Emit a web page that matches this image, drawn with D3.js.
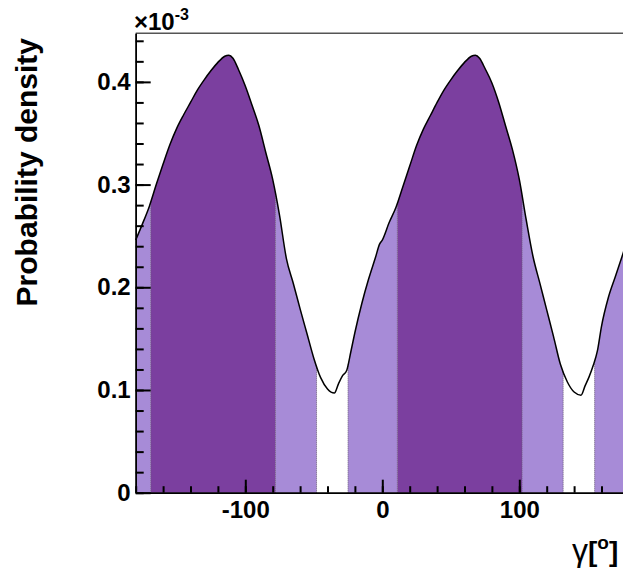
<!DOCTYPE html>
<html>
<head>
<meta charset="utf-8">
<script src="https://cdn.jsdelivr.net/npm/d3@7"></script>
<style>
  html, body { margin: 0; padding: 0; background: #fff; }
  svg { display: block; }
</style>
</head>
<body>
<svg id="chart" width="623" height="573"></svg>
<script>
// ---- data (density in units of 10^-3) ----
const gammaDeg = [
  -180, -175, -170, -165, -160, -155, -150, -145, -140, -135, -130, -125, -120, -115, -112, -109,
  -105, -100, -95, -90, -85, -80, -75, -70, -65, -60, -55, -50, -45, -40, -35, -32, -29, -26, -23,
  -20, -15, -10, -5, -2,
  0, 5, 10, 15, 20, 25, 30, 35, 40, 45, 50, 55, 60, 65, 68, 71,
  75, 80, 85, 90, 95, 100, 105, 110, 115, 120, 125, 130, 135, 140, 145, 148, 151, 154, 157,
  160, 165, 170, 175, 178, 180
];
const density = [
  0.246, 0.262, 0.279, 0.300, 0.320, 0.339, 0.355, 0.368, 0.380, 0.392, 0.402, 0.411, 0.419, 0.425, 0.426, 0.423,
  0.412, 0.396, 0.377, 0.357, 0.331, 0.305, 0.270, 0.228, 0.204, 0.179, 0.155, 0.131, 0.112, 0.101, 0.097, 0.106, 0.114, 0.119, 0.137,
  0.156, 0.184, 0.208, 0.229, 0.242,
  0.246, 0.263, 0.278, 0.298, 0.318, 0.338, 0.354, 0.367, 0.380, 0.392, 0.402, 0.411, 0.419, 0.425, 0.426, 0.423,
  0.413, 0.399, 0.380, 0.357, 0.334, 0.305, 0.266, 0.230, 0.204, 0.178, 0.152, 0.125, 0.108, 0.098, 0.095, 0.104, 0.113, 0.124, 0.138,
  0.162, 0.190, 0.210, 0.230, 0.242, 0.246
];
// credible intervals
const darkFrom  = [-169, 11];
const darkTo    = [-78, 102];
const lightFrom = [-180, -78, -25, 102, 155];
const lightTo   = [-169, -48, 11, 132, 180];

const xMajorTicks = [-100, 0, 100];
const yMajorTicks = [0, 0.1, 0.2, 0.3, 0.4];
const yLabels = ["0", "0.1", "0.2", "0.3", "0.4"];

// ---- layout ----
const svg = d3.select("#chart");
const x = d3.scaleLinear().domain([-180, 180]).range([135.7, 628.9]);
const y = d3.scaleLinear().domain([0, 0.4473]).range([492.7, 33.3]);

const pts = gammaDeg.map((g, i) => ({ g, d: density[i] }));
const area = d3.area().x(p => x(p.g)).y0(y(0)).y1(p => y(p.d)).curve(d3.curveMonotoneX);
const line = d3.line().x(p => x(p.g)).y(p => y(p.d)).curve(d3.curveMonotoneX);

const defs = svg.append("defs");
function addClip(id, from, to) {
  const cp = defs.append("clipPath").attr("id", id);
  from.forEach((f, i) => {
    cp.append("rect").attr("x", x(f)).attr("y", 0)
      .attr("width", x(to[i]) - x(f)).attr("height", 573);
  });
}
addClip("clipDark", darkFrom, darkTo);
addClip("clipLight", lightFrom, lightTo);

svg.append("path").datum(pts).attr("d", area)
  .attr("fill", "#a78bd7").attr("clip-path", "url(#clipLight)");
svg.append("path").datum(pts).attr("d", area)
  .attr("fill", "#7b3f9f").attr("clip-path", "url(#clipDark)");

// dotted borders of regions
const bounds = [-169, -78, -48, -25, 11, 102, 132, 155];
const interp = (g) => {
  for (let i = 1; i < gammaDeg.length; i++) {
    if (g <= gammaDeg[i]) {
      const t = (g - gammaDeg[i - 1]) / (gammaDeg[i] - gammaDeg[i - 1]);
      return density[i - 1] + t * (density[i] - density[i - 1]);
    }
  }
  return density[density.length - 1];
};
svg.selectAll("line.bnd").data(bounds).enter().append("line")
  .attr("class", "bnd")
  .attr("x1", d => x(d)).attr("x2", d => x(d))
  .attr("y1", y(0)).attr("y2", d => y(interp(d)))
  .attr("stroke", "#6a5a7a").attr("stroke-width", 1)
  .attr("stroke-dasharray", "1,1");

svg.append("path").datum(pts).attr("d", line)
  .attr("fill", "none").attr("stroke", "#000").attr("stroke-width", 1.5);

// top frame line
svg.append("line").attr("x1", x(-180)).attr("x2", x(180))
  .attr("y1", y(0.4473)).attr("y2", y(0.4473))
  .attr("stroke", "#555").attr("stroke-width", 1.5);
svg.append("line").attr("x1", x(180)).attr("x2", x(180))
  .attr("y1", y(0.4473)).attr("y2", y(0))
  .attr("stroke", "#555").attr("stroke-width", 1.5);

const fontFam = "'Liberation Sans', Arial, Helvetica, sans-serif";

// y axis
const yMinor = d3.range(0, 0.441, 0.02).map(v => +v.toFixed(2));
const gYm = svg.append("g").attr("transform", `translate(${x(-180)},0)`)
  .call(d3.axisLeft(y).tickValues(yMinor).tickSize(-8).tickSizeOuter(0).tickFormat(""));
const gY = svg.append("g").attr("transform", `translate(${x(-180)},0)`)
  .call(d3.axisLeft(y).tickValues(yMajorTicks).tickSize(-15).tickSizeOuter(0).tickPadding(5)
    .tickFormat((d, i) => yLabels[i]));

// x axis
const xMinor = d3.range(-180, 181, 20);
const gXm = svg.append("g").attr("transform", `translate(0,${y(0)})`)
  .call(d3.axisBottom(x).tickValues(xMinor).tickSize(-6.5).tickSizeOuter(0).tickFormat(""));
const gX = svg.append("g").attr("transform", `translate(0,${y(0)})`)
  .call(d3.axisBottom(x).tickValues(xMajorTicks).tickSize(-13).tickSizeOuter(0).tickPadding(8)
    .tickFormat(d => d3.format("d")(d).replace("−", "-")));

[gYm, gY, gXm, gX].forEach(g => {
  g.selectAll(".domain").attr("stroke", "#000").attr("stroke-width", 1.5);
  g.selectAll(".tick line").attr("stroke", "#000").attr("stroke-width", 2);
  g.selectAll("text").attr("font-family", fontFam).attr("font-weight", "bold")
    .attr("font-size", 24).attr("fill", "#000");
});

// exponent label
const ex = svg.append("text").attr("x", 134).attr("y", 30)
  .attr("font-family", fontFam).attr("font-weight", "bold").attr("font-size", 24);
ex.append("tspan").text("×10");
ex.append("tspan").attr("font-size", 16).attr("dy", -10).text("-3");

// y title
svg.append("text")
  .attr("transform", "translate(37,38) rotate(-90)")
  .attr("text-anchor", "end")
  .attr("font-family", fontFam).attr("font-weight", "bold").attr("font-size", 30)
  .text("Probability density");

// x title
const xt = svg.append("text").attr("x", 572).attr("y", 561)
  .attr("font-family", fontFam).attr("font-size", 28);
xt.append("tspan").attr("font-size", 32).text("γ");
xt.append("tspan").attr("font-weight", "bold").text("[");
xt.append("tspan").attr("font-weight", "bold").attr("font-size", 19).attr("dy", -12).text("o");
xt.append("tspan").attr("font-weight", "bold").attr("dy", 12).text("]");
</script>
</body>
</html>
